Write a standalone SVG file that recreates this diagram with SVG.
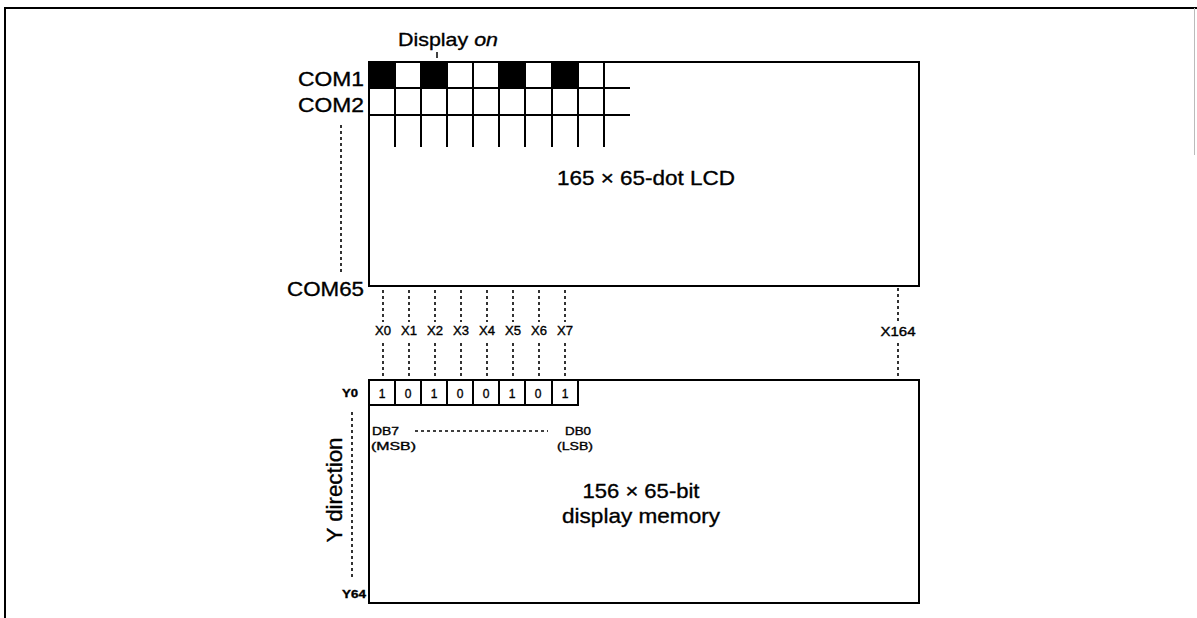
<svg xmlns="http://www.w3.org/2000/svg" width="1197" height="618" viewBox="0 0 1197 618">
<style>
text{font-family:"Liberation Sans",Arial,sans-serif;fill:#000;stroke:#000;stroke-width:0.35}
.box{fill:none;stroke:#000;stroke-width:2}
.grid{stroke:#000;stroke-width:2;fill:none}
.dot{stroke:#000;stroke-width:1.6;stroke-dasharray:3 3;fill:none}
.xl{font-size:12px;text-anchor:middle}
.bit{font-size:12px;text-anchor:middle}
.sm{font-size:11px}
.big{font-size:21px}
.com{font-size:20px}
</style>
<rect width="1197" height="618" fill="#fff"/>
<g id="frame">
<path d="M5 618V8H1197" fill="none" stroke="#000" stroke-width="2"/>
<path d="M1194.5 8V155" stroke="#bbb" stroke-width="1"/>
</g>
<g id="lcd">
<rect x="369" y="62" width="26" height="26" fill="#000"/>
<rect x="421" y="62" width="26" height="26" fill="#000"/>
<rect x="499" y="62" width="26" height="26" fill="#000"/>
<rect x="552" y="62" width="26" height="26" fill="#000"/>
<rect class="box" x="369" y="62" width="550" height="224"/>
<path class="grid" d="M369 88H630M369 115H630M395 62V147M421 62V147M447 62V147M473 62V147M499 62V147M525 62V147M552 62V147M578 62V147M604 62V147"/>
<text class="big" x="557" y="185" textLength="178" lengthAdjust="spacingAndGlyphs">165 × 65-dot LCD</text>
</g>
<g id="display-on">
<text x="398" y="46" font-size="19" textLength="100" lengthAdjust="spacingAndGlyphs">Display <tspan font-style="italic">on</tspan></text>
<path d="M437 52V58" stroke="#000" stroke-width="1.5"/>
</g>
<g id="com-labels">
<text class="com" x="298" y="86" textLength="66" lengthAdjust="spacingAndGlyphs">COM1</text>
<text class="com" x="298" y="112" textLength="66" lengthAdjust="spacingAndGlyphs">COM2</text>
<text class="com" x="287" y="296" textLength="77" lengthAdjust="spacingAndGlyphs">COM65</text>
</g>
<g id="memory">
<rect class="box" x="369" y="380" width="550" height="223"/>
<path class="grid" d="M369 405H578V380M395 380V405M421 380V405M447 380V405M473 380V405M499 380V405M525 380V405M552 380V405"/>
<text class="bit" x="382" y="398">1</text>
<text class="bit" x="408" y="398">0</text>
<text class="bit" x="434" y="398">1</text>
<text class="bit" x="460" y="398">0</text>
<text class="bit" x="486" y="398">0</text>
<text class="bit" x="512" y="398">1</text>
<text class="bit" x="538" y="398">0</text>
<text class="bit" x="565" y="398">1</text>
<text class="sm" x="372" y="435" textLength="27" lengthAdjust="spacingAndGlyphs">DB7</text>
<text class="sm" x="371" y="450" textLength="45" lengthAdjust="spacingAndGlyphs">(MSB)</text>
<text class="sm" x="565" y="435" textLength="26" lengthAdjust="spacingAndGlyphs">DB0</text>
<text class="sm" x="557" y="450" textLength="36" lengthAdjust="spacingAndGlyphs">(LSB)</text>
<text class="big" x="641" y="498" text-anchor="middle" textLength="117" lengthAdjust="spacingAndGlyphs">156 × 65-bit</text>
<text class="big" x="641" y="523" text-anchor="middle" textLength="158" lengthAdjust="spacingAndGlyphs">display memory</text>
</g>
<g id="y-labels">
<text class="sm" x="358" y="397" text-anchor="end" font-weight="bold" textLength="16" lengthAdjust="spacingAndGlyphs">Y0</text>
<text class="sm" x="366" y="598" text-anchor="end" font-weight="bold" textLength="24" lengthAdjust="spacingAndGlyphs">Y64</text>
<text transform="translate(342 490) rotate(-90)" x="0" y="0" font-size="22" text-anchor="middle" textLength="105" lengthAdjust="spacingAndGlyphs">Y direction</text>
</g>
<g id="x-labels">
<text class="xl" x="383" y="335" textLength="16" lengthAdjust="spacingAndGlyphs">X0</text>
<text class="xl" x="409" y="335" textLength="16" lengthAdjust="spacingAndGlyphs">X1</text>
<text class="xl" x="435" y="335" textLength="16" lengthAdjust="spacingAndGlyphs">X2</text>
<text class="xl" x="461" y="335" textLength="16" lengthAdjust="spacingAndGlyphs">X3</text>
<text class="xl" x="487" y="335" textLength="16" lengthAdjust="spacingAndGlyphs">X4</text>
<text class="xl" x="513" y="335" textLength="16" lengthAdjust="spacingAndGlyphs">X5</text>
<text class="xl" x="539" y="335" textLength="16" lengthAdjust="spacingAndGlyphs">X6</text>
<text class="xl" x="565" y="335" textLength="16" lengthAdjust="spacingAndGlyphs">X7</text>
<text class="xl" x="898" y="336" textLength="35" lengthAdjust="spacingAndGlyphs">X164</text>
</g>
<g id="connectors">
<path class="dot" d="M383 290V322M409 290V322M435 290V322M461 290V322M487 290V322M513 290V322M539 290V322M565 290V322"/>
<path class="dot" d="M383 343V379M409 343V379M435 343V379M461 343V379M487 343V379M513 343V379M539 343V379M565 343V379"/>
<path class="dot" d="M898 288V324M898 343V379"/>
<path class="dot" d="M341 125V272"/>
<path class="dot" d="M352 412V580"/>
<path class="dot" d="M415 431H548"/>
</g>
</svg>
